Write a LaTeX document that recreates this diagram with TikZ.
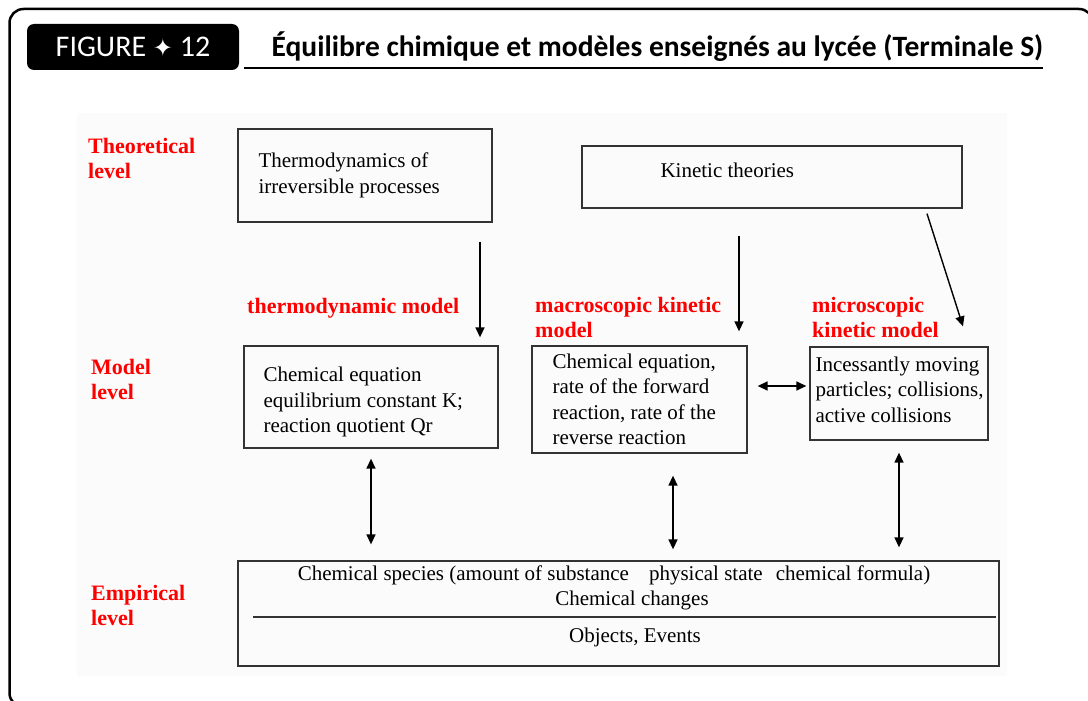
\documentclass[tikz,border=0pt]{standalone}
\usepackage{fontspec}
\setmainfont{Liberation Serif}
\newfontfamily\calibfont{Carlito}
\newfontfamily\symbfont{DejaVu Sans}
\usetikzlibrary{arrows.meta}

\begin{document}
\begin{tikzpicture}[x=1pt, y=-1pt,
    box/.style={draw=black!80, line width=1.3pt, inner sep=0pt},
    boxtext/.style={inner sep=0pt, align=left, anchor=west, font=\fontsize{21}{25.5}\selectfont},
    levellabel/.style={text=red, inner sep=0pt, align=left, anchor=north west, font=\fontsize{22}{25}\selectfont\bfseries},
    arr/.style={-{Triangle[length=10pt,width=9pt]}, line width=1.4pt},
    darr/.style={{Triangle[length=10pt,width=9pt]}-{Triangle[length=10pt,width=9pt]}, line width=1.4pt}
  ]
    \useasboundingbox (0,0) rectangle (1088,701);
    % frame and heading
    \draw[line width=2.5pt, rounded corners=14pt] (9.5,707) rectangle (1093,9);
    \node[fill=black, rounded corners=7pt, minimum width=212pt, minimum height=46pt, text=white,
      font=\calibfont\fontsize{30}{34}\selectfont] (tag) at (133,47)
      {FIGURE {\symbfont\fontsize{24}{24}\selectfont ✦} 12};
    \node[anchor=base, font=\calibfont\bfseries\fontsize{29.5}{34}\selectfont] (title) at (657.5,57)
      {Équilibre chimique et modèles enseignés au lycée (Terminale S)};
    \draw[line width=2pt] (244,68) -- (1043,68);
    \fill[black!1.5] (77,113) rectangle (1007,676);

    % levels
    \foreach \nm/\xx/\yy/\txt in {lth/88/138/Theoretical, lmo/91/359/Model, lem/91/585/Empirical}
      \node[levellabel] (\nm) at (\xx,\yy) {\txt\\level};
    \node[levellabel] (thm) at (247,298) {thermodynamic model};
    \node[levellabel] (mam) at (535,297) {macroscopic kinetic\\model};
    \node[levellabel] (mim) at (812,297) {microscopic\\kinetic model};

    % boxes
    \node[box, minimum width=254pt, minimum height=93pt] (tir) at (365,175.5) {};
    \node[box, minimum width=380pt, minimum height=62pt] (kin) at (772,177) {};
    \node[box, minimum width=254pt, minimum height=102pt] (tm) at (371,397) {};
    \node[box, minimum width=215pt, minimum height=107pt] (mm) at (639.5,399.5) {};
    \node[box, minimum width=178pt, minimum height=93pt] (mic) at (899,393.5) {};
    \node[box, minimum width=761pt, minimum height=105pt] (emp) at (618.5,613.5) {};

    \node[boxtext] (tirtxt) at ([xshift=21pt]tir.west) {Thermodynamics of\\irreversible processes};
    \node[boxtext] (kintxt) at ([xshift=79pt,yshift=7pt]kin.west) {Kinetic theories};
    \node[boxtext] (tmtxt) at ([xshift=20pt,yshift=-5pt]tm.west)
      {Chemical equation\\equilibrium constant K;\\reaction quotient Qr};
    \node[boxtext] (mmtxt) at ([xshift=21pt]mm.west)
      {Chemical equation,\\rate of the forward\\reaction, rate of the\\reverse reaction};
    \node[boxtext] (mictxt) at ([xshift=6pt,yshift=4pt]mic.west)
      {Incessantly moving\\particles; collisions,\\active collisions};

    \node[boxtext, anchor=base] (emp1) at (614,580)
      {Chemical species (amount of substance\hspace{20pt}physical state\hspace{13pt}chemical formula)};
    \node[boxtext, anchor=base] (emp2) at (632,605) {Chemical changes};
    \node[boxtext, anchor=base] (emp3) at (635,642) {Objects, Events};
    \draw[black!80, line width=1.3pt] (253,617) -- (996,617);

    % arrows
    \draw[arr, shorten <=19pt, shorten >=8pt] ([xshift=115pt]tir.south) -- ([xshift=109pt]tm.north);
    \draw[arr, shorten <=27pt, shorten >=14pt] ([xshift=-33pt]kin.south) -- ([xshift=99.5pt]mm.north);
    \draw[arr] ([xshift=155pt,yshift=-5pt]kin.south) -- ([xshift=64pt,yshift=20pt]mic.north);
    \draw[darr, shorten <=10pt, shorten >=3pt] ([yshift=13.5pt]mm.east) -- ([yshift=7.5pt]mic.west);
    \draw[darr, shorten <=10pt, shorten >=16pt] (tm.south) -- ([xshift=-247.5pt]emp.north);
    \draw[darr, shorten <=22pt, shorten >=11pt] ([xshift=33.5pt]mm.south) -- ([xshift=54.5pt]emp.north);
    \draw[darr, shorten <=12pt, shorten >=13pt] (mic.south) -- ([xshift=280.5pt]emp.north);
  \end{tikzpicture}
\end{document}
